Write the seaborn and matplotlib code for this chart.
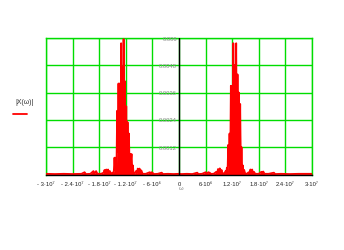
import numpy as np
import matplotlib
matplotlib.use("Agg")
import matplotlib.pyplot as plt
import seaborn as sns

# frequency (units of 1e6) and |X(w)| (units of 1e-3)
neg_freq = [-30.0, -28.0, -26.0, -24.0, -22.0, -21.3, -21.0, -20.0, -19.3, -19.0,
            -18.7, -18.4, -17.6, -17.0, -16.8, -16.6, -16.4, -16.2, -16.0, -15.8,
            -15.6, -15.3, -15.0, -14.85,
            -14.70, -14.55, -14.40, -14.25, -14.10, -13.95, -13.80, -13.65, -13.50, -13.35,
            -13.20, -13.05, -12.90, -12.75, -12.60, -12.50, -12.35, -12.20, -12.05, -11.90,
            -11.75, -11.60, -11.45, -11.30, -11.15, -11.00, -10.85, -10.70, -10.55, -10.40,
            -10.25,
            -10.0, -9.7, -9.5, -9.3, -9.1, -8.9, -8.7, -8.5, -8.2, -7.5,
            -6.6, -6.4, -6.2, -5.6, -4.8, -3.9, -3.6, -2.5, -1.2, 0.0]
neg_mag = [0.03, 0.02, 0.03, 0.02, 0.03, 0.10, 0.02, 0.03, 0.15, 0.05,
           0.15, 0.03, 0.03, 0.08, 0.20, 0.06, 0.22, 0.08, 0.22, 0.05,
           0.15, 0.03, 0.08, 0.05,
           0.15, 0.74, 0.20, 0.74, 0.30, 2.80, 1.00, 4.00, 0.60, 4.00,
           0.70, 5.77, 0.70, 4.70, 1.00, 5.95, 1.50, 4.10, 0.60, 3.00,
           0.40, 2.30, 0.20, 1.80, 0.40, 0.90, 0.60, 0.90, 0.10, 0.40,
           0.05,
           0.03, 0.15, 0.05, 0.26, 0.08, 0.26, 0.06, 0.18, 0.03, 0.03,
           0.10, 0.03, 0.10, 0.02, 0.03, 0.08, 0.02, 0.03, 0.02, 0.03]

pos_freq = [0.6, 1.8, 3.0, 4.1, 4.4, 5.2, 6.0, 6.3, 6.6, 6.9,
            7.3, 7.9, 8.4, 8.6, 8.8, 9.0, 9.2, 9.4, 9.6, 9.8,
            10.1, 10.3,
            10.50, 10.65, 10.80, 10.95, 11.10, 11.25, 11.40, 11.55, 11.70, 11.85,
            12.00, 12.15, 12.25, 12.40, 12.55, 12.70, 12.90, 13.05, 13.20, 13.35,
            13.50, 13.65, 13.80, 13.95, 14.10, 14.25, 14.40, 14.55, 14.70,
            14.9, 15.3, 15.7, 15.9, 16.1, 16.3, 16.5, 16.7, 16.9, 17.2,
            18.0, 18.6, 18.8, 19.0, 19.3, 20.2, 21.4, 21.7, 23.0, 25.0,
            27.0, 30.0]
pos_mag = [0.02, 0.03, 0.02, 0.08, 0.02, 0.03, 0.10, 0.04, 0.10, 0.08,
           0.02, 0.04, 0.12, 0.05, 0.24, 0.08, 0.27, 0.06, 0.20, 0.04,
           0.06, 0.03,
           0.15, 0.05, 0.30, 0.10, 1.30, 0.40, 1.80, 0.30, 3.90, 0.90,
           3.90, 0.80, 5.77, 1.50, 4.80, 2.00, 5.77, 0.60, 4.40, 0.30,
           3.60, 0.40, 3.10, 0.20, 1.20, 0.10, 0.40, 0.05, 0.20,
           0.05, 0.03, 0.10, 0.04, 0.22, 0.06, 0.22, 0.05, 0.12, 0.03,
           0.03, 0.12, 0.04, 0.13, 0.03, 0.03, 0.08, 0.02, 0.03, 0.02,
           0.03, 0.03]

x_ticks = [-3e7, -2.4e7, -1.8e7, -1.2e7, -6e6, 0, 6e6, 1.2e7, 1.8e7, 2.4e7, 3e7]
x_tick_labels = ["- 3·10⁷", "- 2.4·10⁷", "- 1.8·10⁷", "- 1.2·10⁷", "- 6·10⁶", "0",
                 "6·10⁶", "1.2·10⁷", "1.8·10⁷", "2.4·10⁷", "3·10⁷"]
y_ticks = [0.0012, 0.0024, 0.0036, 0.0048, 0.006]
y_tick_labels = ["0.0012", "0.0024", "0.0036", "0.0048", "0.006"]

sns.set_theme(style="white")
plt.rcParams['font.family'] = ['Liberation Sans', 'DejaVu Sans']

freq = np.array(neg_freq + pos_freq) * 1e6
mag = np.array(neg_mag + pos_mag) * 1e-3

fig = plt.figure(figsize=(3.44, 2.51), dpi=100)
W, H = 344, 251
left, right, top, bottom = 46, 312, 39, 175.5
ax = fig.add_axes([left / W, 1 - bottom / H, (right - left) / W, (bottom - top) / H])

green = "#00dd00"
ax.fill_between(freq, mag, 0, color="red", lw=0, zorder=3)
sns.lineplot(x=freq, y=mag, ax=ax, color="red", lw=1.3, estimator=None, sort=False, zorder=3)

ax.set_xlim(-3e7, 3e7)
ax.set_ylim(0, 0.006)
ax.set_xticks(x_ticks)
ax.set_xticklabels(x_tick_labels, fontsize=4.2, color="#222222")
ax.set_yticks([0] + y_ticks)
ax.set_yticklabels([])
ax.tick_params(axis="y", length=0)
ax.tick_params(axis="x", direction="inout", length=3, width=0.8, color="black", pad=3)
ax.grid(True, color=green, lw=1.0, zorder=0)
ax.set_axisbelow(True)
for side in ["top", "left", "right"]:
    ax.spines[side].set_color(green)
    ax.spines[side].set_linewidth(1.0)
ax.spines["bottom"].set_color("black")
ax.spines["bottom"].set_linewidth(1.0)
ax.spines["bottom"].set_zorder(4)
ax.axvline(0, color="black", lw=1.0, zorder=4)
ax.set_xlabel("")
ax.set_ylabel("")

for yv, lab in zip(y_ticks, y_tick_labels):
    ax.annotate(lab, xy=(0, yv), xytext=(-1.5, 0), textcoords="offset points",
                ha="right", va="center", fontsize=4.2, color="#888888", zorder=5)

fig.text(181 / W, 1 - 189 / H, "ω", fontsize=4.2, color="#888888", ha="center", va="center")
fig.text(25 / W, 1 - 103 / H, "|X(ω)|", fontsize=5, color="#333333", ha="center", va="center")
fig.add_artist(plt.Line2D([13 / W, 27 / W], [1 - 115 / H, 1 - 115 / H], color="red", lw=1.3))

fig.savefig("out.png", dpi=100)
